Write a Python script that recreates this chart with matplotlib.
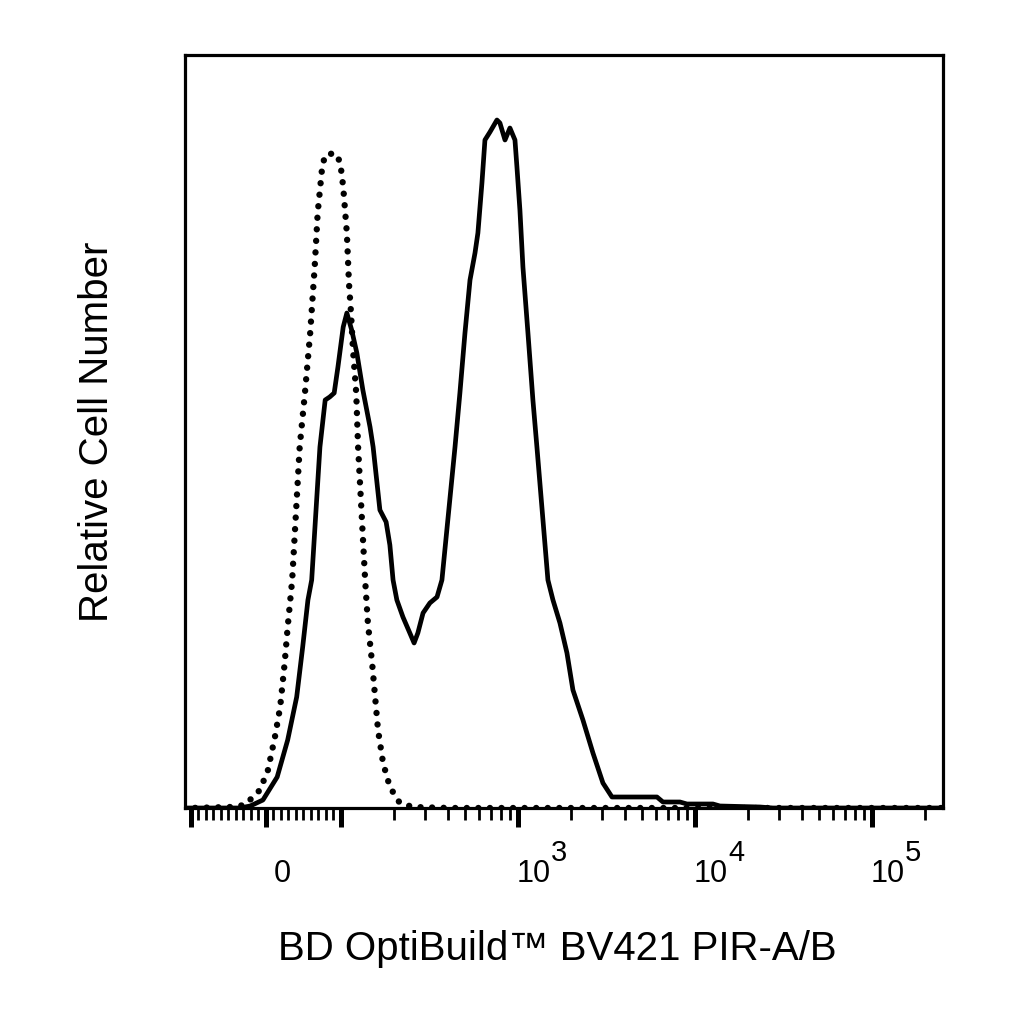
import matplotlib
matplotlib.use("Agg")
import matplotlib.pyplot as plt
from matplotlib import ticker

plt.rcParams['font.family'] = ['Liberation Sans', 'DejaVu Sans']

# fluorescence intensity (biexponential axis) and relative cell counts
isotype_x = [-110, -101, -48, -28, -8, 2.7, 12, 19, 25, 29, 35, 45, 52, 59, 65, 69, 75, 79,
             92, 99, 103, 108, 111, 114, 117, 122, 125, 137, 142, 150, 156, 162, 173,
             189, 215, 255, 413, 1000, 1e4, 1e5, 2.6e5]
isotype_y = [0, 0, 1, 3, 18, 38, 71, 101, 145, 181, 228, 361, 415, 475, 541, 595, 641, 653,
             655, 646, 621, 575, 525, 495, 458, 415, 361, 228, 185, 145, 111, 78, 45,
             21, 5, 1, 0, 0, 0, 0, 0]

stained_x = [-110, -101, -35, -21, -4, 15, 29, 41, 49, 56, 61, 72, 79, 85, 91, 96, 103, 108,
             115, 123, 133, 146, 152, 166, 180, 189, 197, 207, 224, 245, 259, 272, 291,
             318, 349, 372, 441, 470, 502, 536, 572, 594, 626, 651, 695, 761, 791, 845,
             901, 962, 987, 1026, 1067, 1139, 1215, 1280, 1477, 1577, 1727, 1892, 2045,
             2329, 2653, 3021, 3398, 6100, 6595, 8230, 9010, 12640, 13840, 23290, 27590,
             2.6e5]
stained_y = [0, 0, 0, 2, 8, 31, 68, 111, 161, 208, 228, 361, 408, 411, 415, 441, 481, 495,
             478, 455, 418, 381, 361, 298, 286, 263, 228, 208, 191, 175, 165, 175, 195,
             205, 211, 228, 361, 415, 475, 528, 555, 575, 625, 668, 676, 688, 685, 668,
             680, 668, 641, 598, 541, 475, 408, 361, 228, 208, 185, 155, 118,
             88, 55, 25, 11, 11, 6, 6, 4, 4, 2, 1, 0,
             0]

major_ticks = [-100, 0, 100, 1e3, 1e4, 1e5]
label_ticks = [0, 1e3, 1e4, 1e5]
label_base = ['0', '10', '10', '10']
label_exp = ['', '3', '4', '5']

fig = plt.figure(figsize=(10.24, 10.24), dpi=100)
ax = fig.add_axes([185 / 1024, 1 - 808 / 1024, (943 - 185) / 1024, (808 - 55) / 1024])

ax.plot(isotype_x, isotype_y, color='black', lw=4.6, linestyle=(0, (0.01, 1.8)),
        dash_capstyle='round', solid_joinstyle='round')
ax.plot(stained_x, stained_y, color='black', lw=3.4, solid_joinstyle='round')

ax.set_xscale('symlog', linthresh=100, linscale=0.3814)
ax.set_xlim(-108, 2.52e5)
ax.set_ylim(0, 753)

minor = [-v for v in range(10, 100, 10)] + list(range(10, 100, 10))
for e in (2, 3, 4):
    minor += [k * 10 ** e for k in range(2, 10)]
minor += [2e5]
ax.xaxis.set_major_locator(ticker.FixedLocator(major_ticks))
ax.xaxis.set_minor_locator(ticker.FixedLocator(minor))
ax.xaxis.set_major_formatter(ticker.NullFormatter())
ax.xaxis.set_minor_formatter(ticker.NullFormatter())
ax.tick_params(axis='x', which='major', direction='out', length=14, width=3.6, color='black')
ax.tick_params(axis='x', which='minor', direction='out', length=8.5, width=2.0, color='black')
ax.set_yticks([])

for s in ax.spines.values():
    s.set_linewidth(2.3)

# tick labels with raised exponents, set a little to the right of each tick
for x, base, exp in zip(label_ticks, label_base, label_exp):
    dx = 8 if exp == '' else -1
    ax.annotate(base, xy=(x, 0), xycoords=('data', 'axes fraction'),
                xytext=(dx, -74), textcoords='offset pixels',
                ha='left', va='baseline', fontsize=22)
    if exp:
        ax.annotate(exp, xy=(x, 0), xycoords=('data', 'axes fraction'),
                    xytext=(33, -53), textcoords='offset pixels',
                    ha='left', va='baseline', fontsize=21)

fig.text(557 / 1024, 1 - 960 / 1024, 'BD OptiBuild™ BV421 PIR-A/B',
         ha='center', va='baseline', fontsize=29)
fig.text(108 / 1024, 1 - 432 / 1024, 'Relative Cell Number', rotation=90,
         rotation_mode='anchor', ha='center', va='baseline', fontsize=29)

fig.savefig('out.png', dpi=100, facecolor='white')
